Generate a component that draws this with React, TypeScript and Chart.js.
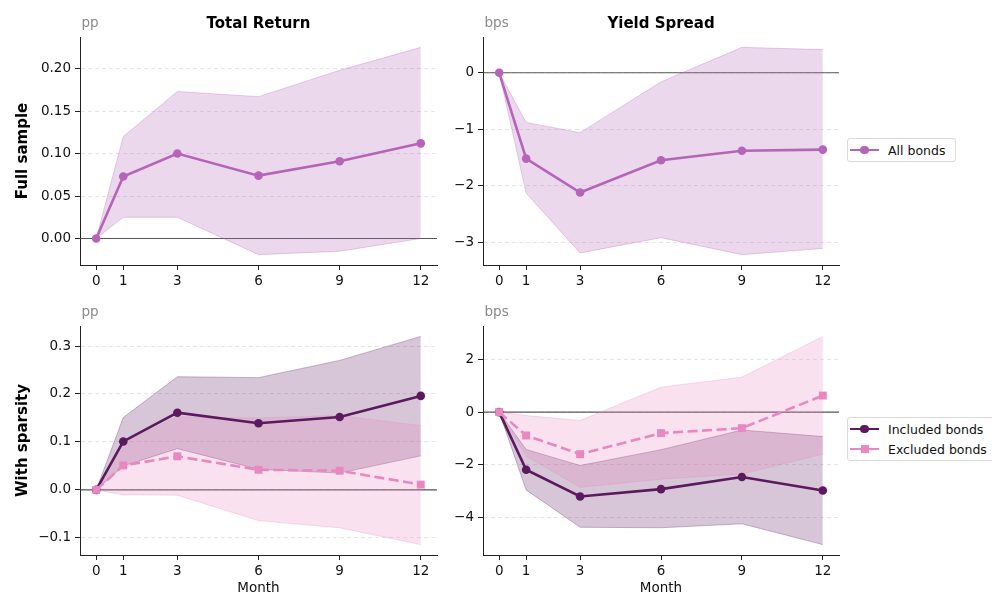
import React, { useEffect, useRef } from 'react';
import { Chart, registerables } from 'chart.js';

Chart.register(...registerables);

// ---------------- data ----------------
const months = [0, 1, 3, 6, 9, 12];
const xTicks = [0, 1, 3, 6, 9, 12];

// Total Return, full sample (pp)
const trAllMean = [0, 0.073, 0.100, 0.074, 0.091, 0.112];
const trAllUpper = [0, 0.120, 0.173, 0.167, 0.198, 0.225];
const trAllLower = [0, 0.025, 0.025, -0.019, -0.015, 0.000];

// Yield Spread, full sample (bps)
const ysAllMean = [0, -1.52, -2.12, -1.55, -1.38, -1.36];
const ysAllUpper = [0, -0.88, -1.06, -0.16, 0.45, 0.41];
const ysAllLower = [0, -2.13, -3.19, -2.92, -3.22, -3.11];

// Total Return, with sparsity (pp)
const trInclMean = [0, 0.101, 0.161, 0.139, 0.152, 0.196];
const trInclUpper = [0, 0.151, 0.236, 0.234, 0.270, 0.320];
const trInclLower = [0, 0.050, 0.086, 0.043, 0.035, 0.071];
const trExclMean = [0, 0.051, 0.070, 0.042, 0.040, 0.011];
const trExclUpper = [0, 0.098, 0.152, 0.150, 0.155, 0.134];
const trExclLower = [0, -0.010, -0.011, -0.064, -0.079, -0.114];

// Yield Spread, with sparsity (bps)
const ysInclMean = [0, -2.19, -3.21, -2.93, -2.47, -2.98];
const ysInclUpper = [0, -1.42, -2.03, -1.43, -0.68, -0.93];
const ysInclLower = [0, -2.96, -4.38, -4.40, -4.25, -5.04];
const ysExclMean = [0, -0.89, -1.60, -0.80, -0.61, 0.63];
const ysExclUpper = [0, -0.13, -0.32, 0.95, 1.33, 2.88];
const ysExclLower = [0, -1.68, -2.86, -2.55, -2.35, -1.60];

// tick labels
const trTopTicks = [0, 0.05, 0.10, 0.15, 0.20];
const ysTopTicks = [-3, -2, -1, 0];
const trBotTicks = [-0.1, 0, 0.1, 0.2, 0.3];
const ysBotTicks = [-4, -2, 0, 2];

const colAll = '#b565b8';
const colIncl = '#5c1a5e';
const colExcl = '#e888c0';

const FONT = '"DejaVu Sans", Verdana, sans-serif';

type Series = {
  label: string;
  mean: number[];
  upper: number[];
  lower: number[];
  color: string;
  dashed?: boolean;
  marker: 'circle' | 'rect';
};

type Panel = {
  title?: string;
  unit: string;
  rowLabel?: string;
  xLabel?: string;
  series: Series[];
  yTicks: number[];
  decimals: number;
  left: number;
  top: number;
  width: number;
  height: number;
  padTop: number;
  padRight: number;
  yWidth: number;
  xHeight: number;
};

const allSeries = (mean: number[], upper: number[], lower: number[]): Series => ({
  label: 'All bonds', mean, upper, lower, color: colAll, marker: 'circle',
});
const inclSeries = (mean: number[], upper: number[], lower: number[]): Series => ({
  label: 'Included bonds', mean, upper, lower, color: colIncl, marker: 'circle',
});
const exclSeries = (mean: number[], upper: number[], lower: number[]): Series => ({
  label: 'Excluded bonds', mean, upper, lower, color: colExcl, marker: 'rect', dashed: true,
});

const panels: Panel[] = [
  {
    title: 'Total Return', unit: 'pp', rowLabel: 'Full sample',
    series: [allSeries(trAllMean, trAllUpper, trAllLower)],
    yTicks: trTopTicks, decimals: 2,
    left: 0, top: 0, width: 446, height: 300, padTop: 37, padRight: 9, yWidth: 80, xHeight: 35,
  },
  {
    title: 'Yield Spread', unit: 'bps',
    series: [allSeries(ysAllMean, ysAllUpper, ysAllLower)],
    yTicks: ysTopTicks, decimals: 0,
    left: 446, top: 0, width: 400, height: 300, padTop: 37, padRight: 7, yWidth: 37, xHeight: 35,
  },
  {
    unit: 'pp', rowLabel: 'With sparsity', xLabel: 'Month',
    series: [inclSeries(trInclMean, trInclUpper, trInclLower), exclSeries(trExclMean, trExclUpper, trExclLower)],
    yTicks: trBotTicks, decimals: 1,
    left: 0, top: 300, width: 446, height: 298, padTop: 26, padRight: 9, yWidth: 80, xHeight: 43,
  },
  {
    unit: 'bps', xLabel: 'Month',
    series: [inclSeries(ysInclMean, ysInclUpper, ysInclLower), exclSeries(ysExclMean, ysExclUpper, ysExclLower)],
    yTicks: ysBotTicks, decimals: 0,
    left: 446, top: 300, width: 400, height: 298, padTop: 26, padRight: 7, yWidth: 37, xHeight: 43,
  },
];

function hexA(hex: string, a: number) {
  const r = parseInt(hex.slice(1, 3), 16);
  const g = parseInt(hex.slice(3, 5), 16);
  const b = parseInt(hex.slice(5, 7), 16);
  return `rgba(${r},${g},${b},${a})`;
}

function fmt(v: number, d: number) {
  const s = Math.abs(v).toFixed(d);
  return (v < -1e-9 ? '\u2212' : '') + s;
}

const panelTextPlugin = {
  id: 'panelText',
  beforeDatasetsDraw(chart: any) {
    const { ctx, chartArea } = chart;
    const y0 = chart.scales.y.getPixelForValue(0);
    ctx.save();
    ctx.strokeStyle = 'rgba(70,70,70,0.9)';
    ctx.lineWidth = 1.1;
    ctx.beginPath();
    ctx.moveTo(chartArea.left, y0);
    ctx.lineTo(chartArea.right, y0);
    ctx.stroke();
    ctx.restore();
  },
  afterDraw(chart: any) {
    const { ctx, chartArea } = chart;
    const opts = chart.options.plugins.panelText || {};
    ctx.save();
    if (opts.title) {
      ctx.font = `bold 15px ${FONT}`;
      ctx.fillStyle = '#000';
      ctx.textAlign = 'center';
      ctx.textBaseline = 'alphabetic';
      ctx.fillText(opts.title, (chartArea.left + chartArea.right) / 2, chartArea.top - 9);
    }
    if (opts.unit) {
      ctx.font = `13.5px ${FONT}`;
      ctx.fillStyle = '#8a8a8a';
      ctx.textAlign = 'left';
      ctx.textBaseline = 'alphabetic';
      ctx.fillText(opts.unit, chartArea.left + 1.5, chartArea.top - 10);
    }
    ctx.restore();
  },
};

function buildChart(canvas: HTMLCanvasElement, p: Panel) {
  const all = p.series.flatMap((s) => [...s.mean, ...s.upper, ...s.lower]);
  const lo = Math.min(...all);
  const hi = Math.max(...all);
  const ym = (hi - lo) * 0.05;
  const xmin = Math.min(...months);
  const xmax = Math.max(...months);
  const xm = (xmax - xmin) * 0.05;
  const n = p.series.length;

  const datasets: any[] = [];
  p.series.forEach((s, i) => {
    datasets.push({
      label: s.label,
      data: months.map((m, j) => ({ x: m, y: s.mean[j] })),
      borderColor: s.color,
      backgroundColor: s.color,
      borderWidth: 2.6,
      borderDash: s.dashed ? [10, 4.5] : [],
      pointStyle: s.marker,
      pointRadius: s.marker === 'rect' ? 5.6 : 4.3,
      pointBorderWidth: 0,
      pointBackgroundColor: s.color,
      fill: false,
      tension: 0,
      order: n - 1 - i,
    });
  });
  p.series.forEach((s, i) => {
    datasets.push({
      label: s.label + ' upper',
      data: months.map((m, j) => ({ x: m, y: s.upper[j] })),
      borderColor: hexA(s.color, 0.3),
      backgroundColor: hexA(s.color, 0.25),
      borderWidth: 1,
      pointRadius: 0,
      fill: '+1',
      tension: 0,
      order: n + (n - 1 - i),
    });
    datasets.push({
      label: s.label + ' lower',
      data: months.map((m, j) => ({ x: m, y: s.lower[j] })),
      borderColor: hexA(s.color, 0.3),
      backgroundColor: hexA(s.color, 0.25),
      borderWidth: 1,
      pointRadius: 0,
      fill: false,
      tension: 0,
      order: n + (n - 1 - i),
    });
  });

  const tickFont = { family: FONT, size: 13.5 };

  return new Chart(canvas, {
    type: 'line',
    data: { datasets },
    plugins: [panelTextPlugin as any],
    options: {
      responsive: false,
      animation: false,
      events: [],
      layout: { padding: { top: p.padTop, right: p.padRight, left: 0, bottom: 0 } },
      plugins: {
        legend: { display: false },
        tooltip: { enabled: false },
        title: { display: false },
        panelText: { title: p.title, unit: p.unit },
      } as any,
      scales: {
        x: {
          type: 'linear',
          min: xmin - xm,
          max: xmax + xm,
          afterBuildTicks: (s: any) => {
            s.ticks = xTicks.map((v) => ({ value: v }));
          },
          afterFit: (s: any) => {
            s.height = p.xHeight;
          },
          grid: { drawOnChartArea: false, drawTicks: true, tickLength: 5, tickColor: '#222', tickWidth: 1 },
          border: { display: true, color: '#222', width: 1 },
          ticks: {
            font: tickFont, color: '#111', padding: 3, maxRotation: 0, autoSkip: false,
            callback: (v: any) => String(v),
          },
          title: {
            display: !!p.xLabel, text: p.xLabel || '', font: tickFont, color: '#111',
            padding: { top: 0, bottom: 1 },
          },
        },
        y: {
          type: 'linear',
          min: lo - ym,
          max: hi + ym,
          afterBuildTicks: (s: any) => {
            s.ticks = p.yTicks.map((v) => ({ value: v }));
          },
          afterFit: (s: any) => {
            s.width = p.yWidth;
          },
          grid: {
            color: 'rgba(0,0,0,0.13)', lineWidth: 0.8, drawTicks: true, tickLength: 5,
            tickColor: '#222', tickWidth: 1,
          },
          border: { display: true, color: '#222', width: 1, dash: [4, 3] },
          ticks: {
            font: tickFont, color: '#111', padding: 4,
            callback: (v: any) => fmt(Number(v), p.decimals),
          },
          title: {
            display: !!p.rowLabel, text: p.rowLabel || '', font: { family: FONT, size: 15, weight: 'bold' },
            color: '#000', padding: { top: 14, bottom: 0 },
          },
        },
      },
    } as any,
  });
}

function PanelCanvas({ p }: { p: Panel }) {
  const ref = useRef<HTMLCanvasElement | null>(null);
  useEffect(() => {
    if (!ref.current) return;
    const c = buildChart(ref.current, p);
    return () => c.destroy();
  }, [p]);
  return (
    <canvas
      ref={ref}
      width={p.width}
      height={p.height}
      style={{ position: 'absolute', left: p.left, top: p.top, width: p.width, height: p.height }}
    />
  );
}

function LegendRow({ s }: { s: Series }) {
  const markerSize = s.marker === 'rect' ? 8 : 8.5;
  return (
    <div style={{ display: 'flex', alignItems: 'center', height: 20 }}>
      <div style={{ position: 'relative', width: 29, height: 20, marginLeft: 2 }}>
        <div
          style={{
            position: 'absolute', left: 0, top: 8.7, width: 29, height: 0,
            borderTop: `2.6px ${s.dashed ? 'solid' : 'solid'} ${s.color}`,
          }}
        />
        <div
          style={{
            position: 'absolute', left: 14.5 - markerSize / 2, top: 10 - markerSize / 2,
            width: markerSize, height: markerSize, background: s.color,
            borderRadius: s.marker === 'circle' ? '50%' : 0,
          }}
        />
      </div>
      <span style={{ marginLeft: 9, fontFamily: FONT, fontSize: 12.5, color: '#111', whiteSpace: 'nowrap' }}>{s.label}</span>
    </div>
  );
}

function Legend({ series, left, top, width }: { series: Series[]; left: number; top: number; width: number }) {
  return (
    <div
      style={{
        position: 'absolute', left, top, width, boxSizing: 'border-box',
        border: '1px solid #d9d9d9', borderRadius: 3, background: 'rgba(255,255,255,0.85)',
        padding: '1px 0 1px 0',
      }}
    >
      {series.map((s) => (
        <LegendRow key={s.label} s={s} />
      ))}
    </div>
  );
}

export default function App() {
  return (
    <div
      style={{
        position: 'absolute', left: 0, top: 0, width: 992, height: 598, overflow: 'hidden', background: '#fff',
      }}
    >
      {panels.map((p, i) => (
        <PanelCanvas key={i} p={p} />
      ))}
      <Legend series={panels[1].series} left={847} top={138} width={109} />
      <Legend series={panels[3].series} left={847} top={417} width={160} />
    </div>
  );
}
